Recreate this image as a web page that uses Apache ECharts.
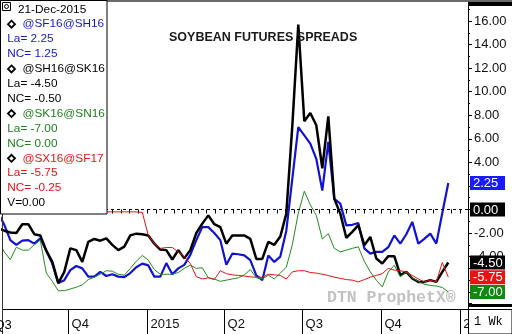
<!DOCTYPE html>
<html><head><meta charset="utf-8">
<script src="https://cdn.jsdelivr.net/npm/echarts@6/dist/echarts.min.js"></script>
<style>html,body{margin:0;padding:0;background:#fff}#c{width:512px;height:334px}</style>
</head><body><div id="c"></div>
<script>
// ---------- data ----------
const chartTitle = 'SOYBEAN FUTURES SPREADS';
const asOfDate = '21-Dec-2015';
const firstWeekUTC = [2014, 6, 11];          // weekly closes, first week (Fri 11-Jul-2014)
const seriesNames = ['@SF16@SH16', '@SH16@SK16', '@SK16@SN16', '@SX16@SF17'];
const sf16sh16 = [-0.3,-1.3,-2.6,-3.0,-2.65,-2.6,-2.9,-2.45,-3.5,-4.6,-6.25,-6.0,-5.15,-4.8,-5.0,-5.7,-5.7,-5.3,-5.65,-5.5,
  -5.7,-5.75,-5.4,-4.9,-4.6,-4.75,-5.7,-5.7,-4.55,-5.5,-5.0,-4.7,-3.85,-2.6,-1.5,-1.5,-2.0,-2.6,-4.7,-3.75,
  -3.8,-3.9,-4.3,-5.6,-6.0,-3.9,-4.45,-4.0,-1.8,2.6,7.0,6.3,5.6,4.3,1.6,5.75,0.9,0.5,-1.35,-1.3,
  -1.15,-3.3,-3.75,-3.6,-3.6,-3.2,-2.2,-2.9,-2.1,-1.05,-2.9,-2.5,-2.05,-2.9,-0.3,2.25];
const sh16sk16 = [-1.6,-1.8,-1.95,-2.0,-1.25,-1.25,-2.1,-2.2,-3.5,-4.45,-6.25,-5.3,-3.3,-3.45,-4.45,-2.75,-2.5,-2.65,-2.45,-3.0,
  -3.45,-3.15,-2.2,-2.05,-2.1,-2.2,-2.9,-3.4,-3.45,-4.25,-3.45,-4.15,-3.45,-2.0,-1.2,-0.5,-1.25,-1.5,-2.9,-2.2,
  -2.2,-2.2,-2.5,-4.2,-4.2,-2.75,-3.0,-2.3,-0.35,7.1,15.7,7.5,8.2,7.15,3.5,7.9,0.9,-0.35,-2.4,-1.9,
  -1.33,-3.03,-2.33,-4.16,-4.58,-3.96,-3.96,-5.58,-5.3,-5.86,-6.15,-6.15,-6.0,-6.15,-5.3,-4.5];
const sk16sn16 = [-2.7,-3.6,-4.25,-3.2,-3.45,-3.45,-3.0,-2.6,-5.4,-6.1,-6.9,-6.9,-6.75,-6.6,-6.4,-5.95,-5.75,-5.5,-5.2,-5.24,
  -5.5,-5.58,-5.0,-4.4,-3.9,-4.3,-5.1,-5.5,-5.5,-5.5,-5.35,-5.0,-4.73,-5.0,-4.95,-5.8,-5.9,-6.1,-6.0,-5.9,
  -5.8,-5.55,-5.1,-5.8,-5.9,-5.58,-5.9,-5.4,-4.9,-3.0,-0.3,1.55,0.4,-0.5,-2.5,-2.05,-3.3,-3.6,-3.45,-3.3,
  -3.17,-4.4,-5.3,-6.0,-6.57,-5.3,-4.73,-5.72,-5.3,-5.8,-6.1,-6.35,-6.45,-6.5,-6.62,-7.0];
const sx16sf17 = [-0.2,-0.2,-0.2,-0.2,-0.2,-0.2,-0.2,-0.2,-0.2,-0.2,-0.2,-0.2,-0.2,-0.2,-0.2,-0.2,-0.2,-0.2,-0.2,-0.2,
  -0.2,-0.2,-0.2,-0.2,-0.25,-2.2,-2.9,-3.3,-3.23,-3.23,-3.6,-4.0,-4.6,-5.7,-5.9,-5.8,-5.95,-5.2,-5.45,-5.55,
  -5.6,-5.65,-5.72,-5.75,-5.75,-5.5,-5.55,-5.6,-5.9,-5.3,-5.2,-5.2,-5.35,-5.4,-5.5,-5.6,-5.75,-5.85,-5.95,-6.0,
  -6.15,-5.95,-5.75,-5.6,-5.45,-5.0,-5.15,-5.2,-5.3,-5.6,-5.9,-6.15,-6.0,-6.15,-4.5,-5.75];
const netChange = [1.25, -0.50, 0.00, -0.25];
const refLineValue = 0.00;
const quarterStarts = [[2014,9,1],[2015,0,1],[2015,3,1],[2015,6,1],[2015,9,1],[2016,0,1]];
const quarterLabels = ['Q4', '2015', 'Q2', 'Q3', 'Q4', '2016'];
const yTickValues = [-8,-6,-4,-2,0,2,4,6,8,10,12,14,16];
const yMinorTickValues = [-7,-5,-3,-1,1,3,5,7,9,11,13,15,17];
const yLabelValues = [16,14,12,10,8,6,4,-2,-4];

// ---------- build ----------
const DAY = 864e5;
const allSeries = [sf16sh16, sh16sk16, sk16sn16, sx16sf17];
const colors = ['#1212d4', '#000000', '#228b22', '#e01414'];
const textColors = ['#1818c8', '#000000', '#1e7f1e', '#e01414'];
const boxColors = ['#1a1aff', '#000000', '#118811', '#ee1111'];
const widths = [2.2, 2.5, 1, 1];
const t0 = Date.UTC(firstWeekUTC[0], firstWeekUTC[1], firstWeekUTC[2]);
const weeks = sf16sh16.map((_, i) => t0 + i * 7 * DAY);
const xMin = t0 + 5.483 * DAY;
const xMax = xMin + 542.5 * DAY;
const quarterTs = quarterStarts.map(d => Date.UTC(d[0], d[1], d[2]));
const minorTs = [];
for (let y = 2014; y <= 2016; y++) for (let m = 0; m < 12; m++) for (const d of [1, 11, 21]) {
  const t = Date.UTC(y, m, d); if (t > xMin && t < xMax) minorTs.push(t);
}
const lastVals = allSeries.map(s => s[s.length - 1]);
const boxes = [
  { v: lastVals[0], k: 'b' }, { v: refLineValue, k: 'k' }, { v: lastVals[1], k: 'k' },
  { v: lastVals[3], k: 'r' }, { v: lastVals[2], k: 'g' }
];
const fmt = v => v.toFixed(2);
const F = '"Liberation Sans", Arial, sans-serif';

const series = allSeries.map((d, i) => ({
  type: 'line', name: seriesNames[i], xAxisIndex: 0, yAxisIndex: 0,
  data: weeks.map((t, j) => [t, d[j]]),
  symbol: 'none', showSymbol: false, animation: false, z: 2 + i,
  lineStyle: { color: colors[i], width: widths[i] }, itemStyle: { color: colors[i] },
  markLine: i === 0 ? {
    silent: true, symbol: ['none', 'none'], label: { show: false }, animation: false,
    lineStyle: { type: [3, 3], color: '#000', width: 1 }, data: [{ yAxis: refLineValue }]
  } : undefined
}));

const richBox = {};
const boxStyle = c => ({ backgroundColor: c, color: '#fff', fontSize: 13, fontFamily: F, padding: [1, 2, 0, 3], width: 30, height: 13, lineHeight: 14 });
richBox.b = boxStyle(boxColors[0]); richBox.k = boxStyle(boxColors[1]);
richBox.g = boxStyle(boxColors[2]); richBox.r = boxStyle(boxColors[3]);

const yBase = { type: 'value', min: -8.45, max: 17.45, position: 'right', gridIndex: 0, splitLine: { show: false } };
const xBase = { type: 'value', min: xMin, max: xMax, position: 'bottom', gridIndex: 0, splitLine: { show: false } };

const g = [];
g.push({ type: 'rect', shape: { x: 0.5, y: 0.5, width: 106.5, height: 213.5 }, style: { fill: '#fff', stroke: '#000', lineWidth: 1 }, z: 100 });
g.push({ type: 'rect', shape: { x: 2.5, y: 2.5, width: 8, height: 8 }, style: { fill: '#fff', stroke: '#000', lineWidth: 1 }, z: 101 });
g.push({ type: 'circle', shape: { cx: 6.5, cy: 6.5, r: 2 }, style: { fill: 'none', stroke: '#000', lineWidth: 1 }, z: 101 });
const lh = 14.9, ly0 = 9.3;
const txt = (x, y, text, color) => ({ type: 'text', x, y, z: 101,
  style: { text, fill: color, font: '11.8px ' + F, verticalAlign: 'middle', align: 'left' } });
g.push(txt(18, ly0, asOfDate, '#000'));
seriesNames.forEach((n, i) => {
  const y = ly0 + lh * (1 + 3 * i);
  g.push({ type: 'polygon', z: 101, shape: { points: [[11.5, y - 3.5], [15, y], [11.5, y + 3.5], [8, y]] }, style: { fill: '#fff', stroke: '#000', lineWidth: 1.8 } });
  g.push(txt(22.5, y, n, textColors[i]));
  g.push(txt(7.3, y + lh, 'La= ' + fmt(lastVals[i]), textColors[i]));
  g.push(txt(7.3, y + 2 * lh, 'NC= ' + fmt(netChange[i]), textColors[i]));
});
g.push(txt(7.3, ly0 + lh * 13, 'V=' + fmt(refLineValue), '#000'));
g.push({ type: 'rect', shape: { x: 0, y: 0, width: 512, height: 2 }, style: { fill: '#6a6a6a' }, z: 90 });
g.push({ type: 'rect', shape: { x: 468, y: 2, width: 44, height: 4 }, style: { fill: '#000' }, z: 90 });
g.push({ type: 'rect', shape: { x: 468, y: 304, width: 44, height: 3 }, style: { fill: '#000' }, z: 90 });
g.push({ type: 'line', shape: { x1: 2.5, y1: 0, x2: 2.5, y2: 334 }, style: { stroke: '#333', lineWidth: 1 }, z: 90 });
g.push({ type: 'rect', shape: { x: 468.5, y: 309.5, width: 43.5, height: 24.5 }, style: { fill: '#fff', stroke: '#000', lineWidth: 1 }, z: 90 });
g.push({ type: 'text', x: 474, y: 322, z: 91, style: { text: '1 Wk', fill: '#000', font: '12px "Liberation Mono", monospace', verticalAlign: 'middle' } });
g.push({ type: 'text', x: -5.5, y: 325, z: 91, style: { text: 'Q3', fill: '#000', font: '13px ' + F, verticalAlign: 'middle' } });
g.push({ type: 'text', x: 327, y: 298, z: 1, style: { text: 'DTN ProphetX\u00AE', fill: '#c2c2c2', font: 'bold 16.5px "Liberation Mono", "Courier New", monospace', verticalAlign: 'middle' } });

const option = {
  animation: false,
  backgroundColor: '#fff',
  title: { text: chartTitle, left: 164, top: 26, textStyle: { fontSize: 12.5, fontWeight: 'bold', color: '#1a1a1a', fontFamily: F } },
  grid: { left: 3, right: 44, top: 4, bottom: 25, containLabel: false },
  xAxis: [
    Object.assign({}, xBase, {
      axisLine: { show: true, onZero: false, lineStyle: { color: '#000', width: 1 } },
      axisTick: { show: true, customValues: quarterTs, length: 25, lineStyle: { color: '#000' } },
      axisLabel: { show: true, customValues: quarterTs, align: 'left', padding: [0, 0, 0, 3], margin: 9, fontSize: 13, fontFamily: F, color: '#111',
        formatter: v => { const k = quarterTs.findIndex(t => Math.abs(t - v) < DAY); return k >= 0 ? quarterLabels[k] : ''; } } }),
    Object.assign({}, xBase, {
      axisLine: { show: false }, axisLabel: { show: false },
      axisTick: { show: true, customValues: minorTs, length: 4, lineStyle: { color: '#000' } } })
  ],
  yAxis: [
    Object.assign({}, yBase, {
      axisLine: { show: true, onZero: false, lineStyle: { color: '#000', width: 1 } },
      axisTick: { show: true, customValues: yTickValues, length: 4, lineStyle: { color: '#000' } },
      axisLabel: { show: true, customValues: yLabelValues, margin: 6, fontSize: 13, fontFamily: F, color: '#111', formatter: v => fmt(v) } }),
    Object.assign({}, yBase, {
      axisLine: { show: false }, axisLabel: { show: false },
      axisTick: { show: true, customValues: yMinorTickValues, length: 2, lineStyle: { color: '#000' } } }),
    Object.assign({}, yBase, {
      axisLine: { show: false }, axisTick: { show: false },
      axisLabel: { show: true, customValues: boxes.map(b => b.v), margin: 2, rich: richBox,
        formatter: v => { const b = boxes.find(bb => Math.abs(bb.v - v) < 1e-6); return '{' + (b ? b.k : 'k') + '|' + fmt(v) + '}'; } } })
  ],
  graphic: { elements: g },
  series
};
const chart = echarts.init(document.getElementById('c'), null, { renderer: 'canvas' });
chart.setOption(option);
</script></body></html>
